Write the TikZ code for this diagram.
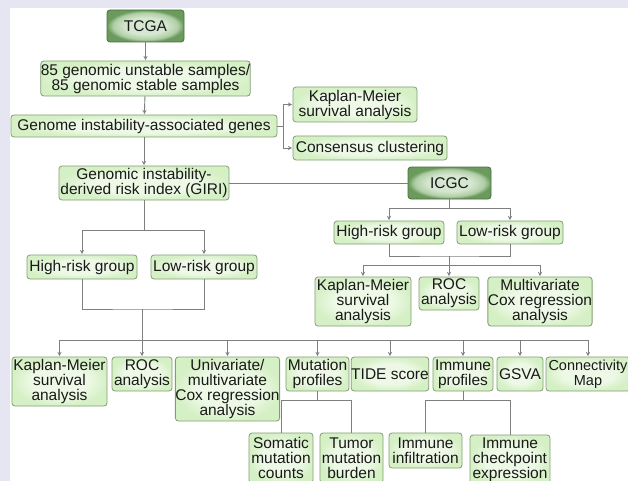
\documentclass[tikz,border=0pt]{standalone}
\usepackage{fontspec}
\setmainfont{Liberation Sans}
\definecolor{lavender}{HTML}{E6E6F2}
\definecolor{boxline}{HTML}{809E70}
\definecolor{boxin}{HTML}{EDF9E6}
\definecolor{boxout}{HTML}{D6F0C6}
\definecolor{hubline}{HTML}{4A7040}
\definecolor{hubin}{HTML}{D6E7D1}
\definecolor{hubmid}{HTML}{B0CEA6}
\definecolor{hubout}{HTML}{6A9A5C}
\definecolor{wire}{HTML}{7F7F7F}
\pgfdeclareradialshading{boxglow}{\pgfpoint{0bp}{0bp}}{color(0bp)=(boxin); color(15bp)=(boxin); color(25bp)=(boxout); color(50bp)=(boxout)}
\pgfdeclareradialshading{hubglow}{\pgfpoint{0bp}{0bp}}{color(0bp)=(hubin); color(13bp)=(hubin); color(21bp)=(hubmid); color(25bp)=(hubout); color(50bp)=(hubout)}
\begin{document}
\begin{tikzpicture}[x=1pt, y=-1pt,
    box/.style={draw=boxline, line width=0.8pt, rounded corners=3pt,
        shading=boxglow, inner sep=0pt, align=center,
        font=\fontsize{15.5}{15}\selectfont, text=black!90},
    hub/.style={box, draw=hubline, shading=hubglow},
    link/.style={draw=wire, line width=0.9pt},
    arr/.style={link, ->, >=stealth, shorten >=0.5pt}]
    % Canvas
    \useasboundingbox (0,0) rectangle (628,481);
    \clip (0,0) rectangle (628,481);
    \fill[lavender] (0,0) rectangle (628,481);
    \fill[white] (10,8) rectangle (628,481);

    % TCGA branch
    \node[hub, minimum width=77, minimum height=32] (tcga) at (145.5,26) {TCGA};
    \node[box, minimum width=207, minimum height=35] (samples) at (145.5,78.5) {85 genomic unstable samples/\\85 genomic stable samples};
    \node[box, minimum width=266, minimum height=22] (genes) at (144,126) {Genome instability-associated genes};
    \node[box, minimum width=124, minimum height=35] (kmA) at (355,104.5) {Kaplan-Meier\\survival analysis};
    \node[box, minimum width=154, minimum height=24] (cons) at (370,148) {Consensus clustering};
    \node[box, minimum width=170, minimum height=34] (giri) at (144,183) {Genomic instability-\\derived risk index (GIRI)};
    \node[box, minimum width=110, minimum height=24] (hrA) at (82,267) {High-risk group};
    \node[box, minimum width=106, minimum height=24] (lrA) at (204,267) {Low-risk group};

    % ICGC branch
    \node[hub, minimum width=83, minimum height=32] (icgc) at (449.5,183) {ICGC};
    \node[box, minimum width=110, minimum height=23] (hrB) at (389,232.5) {High-risk group};
    \node[box, minimum width=106, minimum height=23] (lrB) at (510,232.5) {Low-risk group};
    \node[box, minimum width=96, minimum height=49] (kmB) at (363,301.5) {Kaplan-Meier\\survival\\analysis};
    \node[box, minimum width=60, minimum height=33] (rocB) at (449,293.5) {ROC\\analysis};
    \node[box, minimum width=104, minimum height=49] (mcox) at (540,301.5) {Multivariate\\Cox regression\\analysis};

    % Bottom row
    \node[box, minimum width=95, minimum height=49] (kmC) at (59.5,381.5) {Kaplan-Meier\\survival\\analysis};
    \node[box, minimum width=60, minimum height=34] (rocC) at (142,374) {ROC\\analysis};
    \node[box, minimum width=103, minimum height=64] (ucox) at (227.5,389) {Univariate/\\multivariate\\Cox regression\\analysis};
    \node[box, minimum width=63, minimum height=34] (mut) at (317.5,374) {Mutation\\profiles};
    \node[box, minimum width=74, minimum height=34] (tide) at (390,374) {TIDE score};
    \node[box, minimum width=60, minimum height=34] (imm) at (463,374) {Immune\\profiles};
    \node[box, minimum width=46, minimum height=34] (gsva) at (520,374) {GSVA};
    \node[box, minimum width=84, minimum height=34, font=\fontsize{14.5}{15}\selectfont] (cmap) at (588,374) {Connectivity\\Map};
    \node[box, minimum width=64, minimum height=50] (som) at (281,458) {Somatic\\mutation\\counts};
    \node[box, minimum width=63, minimum height=50] (tmb) at (351.5,458) {Tumor\\mutation\\burden};
    \node[box, minimum width=73, minimum height=35] (inf) at (425.5,450.5) {Immune\\infiltration};
    \node[box, minimum width=80, minimum height=50] (chk) at (510,460) {Immune\\checkpoint\\expression};

    % Junctions
    \coordinate (gj) at (283,126);
    \coordinate (sA) at (144,230);
    \coordinate (mA) at (142,309);
    \coordinate (busA) at (142,340);
    \coordinate (sB) at (449.5,208);
    \coordinate (mB) at (449,256);
    \coordinate (busB) at (449,265);
    \coordinate (sM) at (317.5,400);
    \coordinate (sI) at (463,400);

    % Connectors, TCGA side
    \draw[arr] (tcga) -- (samples);
    \draw[arr] (samples) -- (genes);
    \draw[arr] (genes) -- (giri);
    \draw[link] (genes.east) -- (gj);
    \draw[arr] (gj) |- (kmA.west);
    \draw[arr] (gj) |- (cons.west);
    \draw[link] (giri.south) -- (sA);
    \draw[arr] (sA) -| (hrA.north);
    \draw[arr] (sA) -| (lrA.north);
    \draw[link] (hrA.south) |- (mA) -| (lrA.south);
    \draw[arr] (mA) -- (rocC.north);
    \foreach \n in {kmC,ucox,mut,tide,imm,gsva,cmap}
        \draw[arr] (busA) -| (\n.north);
    \draw[link] (mut.south) -- (sM);
    \draw[link] (sM) -| (som.north);
    \draw[link] (sM) -| (tmb.north);
    \draw[link] (imm.south) -- (sI);
    \draw[link] (sI) -| (inf.north);
    \draw[link] (sI) -| (chk.north);

    % Connectors, ICGC side
    \draw[link] (giri.east) -- (icgc.west);
    \draw[link] (icgc.south) -- (sB);
    \draw[arr] (sB) -| (hrB.north);
    \draw[arr] (sB) -| (lrB.north);
    \draw[link] (hrB.south) |- (mB) -| (lrB.south);
    \draw[arr] (mB) -- (rocB.north);
    \draw[arr] (busB) -| (kmB.north);
    \draw[arr] (busB) -| (mcox.north);
\end{tikzpicture}
\end{document}
